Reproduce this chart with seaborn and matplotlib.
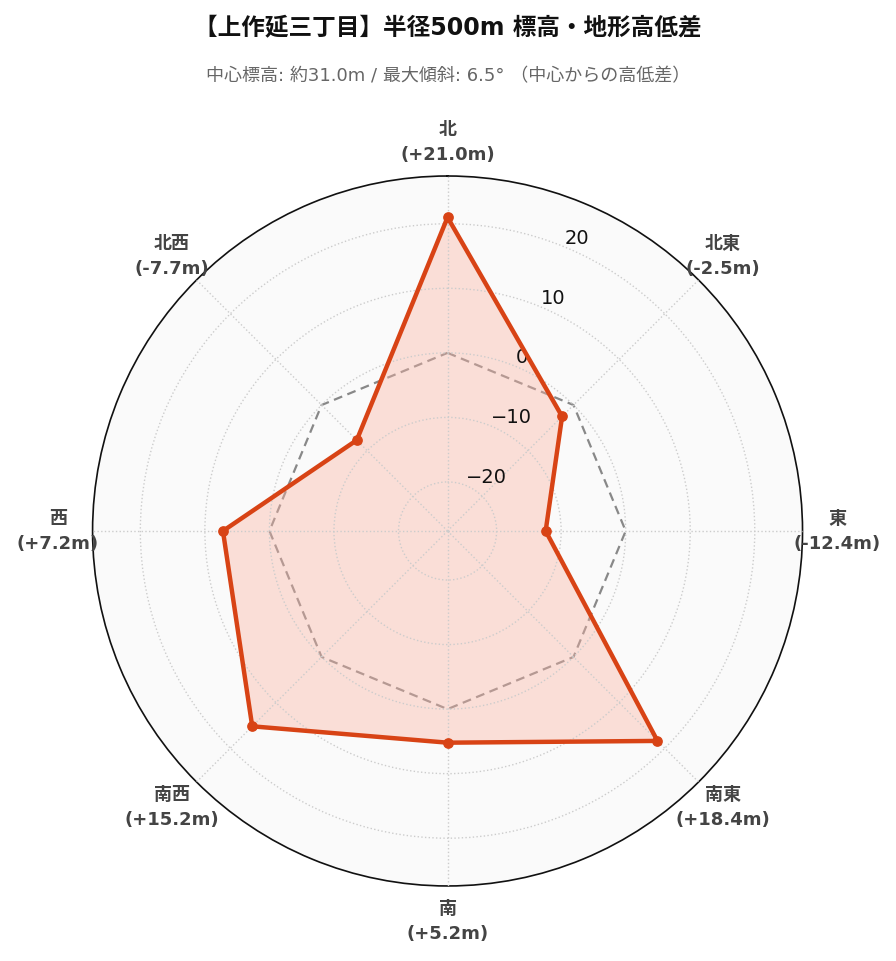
import numpy as np
import matplotlib
matplotlib.use("Agg")
import matplotlib.pyplot as plt
import seaborn as sns

directions = ["北", "北東", "東", "南東", "南", "南西", "西", "北西"]
values = [21.0, -2.5, -12.4, 18.4, 5.2, 15.2, 7.2, -7.7]
r_ticks = [-20, -10, 0, 10, 20]
title = "【上作延三丁目】半径500m 標高・地形高低差"
subtitle = "中心標高: 約31.0m / 最大傾斜: 6.5° （中心からの高低差）"

sns.set_theme(style="white")
plt.rcParams['font.family'] = ['DejaVu Sans', 'Noto Sans CJK JP']

fig = plt.figure(figsize=(8.96, 9.62), dpi=100)
ax = fig.add_axes([0.103, 0.078, 0.793, 0.738], projection="polar")
ax.set_theta_zero_location("N")
ax.set_theta_direction(-1)
ax.set_facecolor("#fafafa")

n = len(directions)
theta = np.linspace(0, 2*np.pi, n, endpoint=False)
tc = np.append(theta, theta[0])
vc = np.append(values, values[0])

ax.plot(tc, np.zeros_like(tc), color="#888888", lw=1.6, ls=(0, (4, 2.5)))
ax.fill(tc, vc, color="#fbb4a4", alpha=0.4, zorder=2)
ax.plot(tc, vc, color="#d84315", lw=3.2, zorder=3)
ax.scatter(theta, values, color="#d84315", s=45, zorder=4)

ax.set_ylim(-27.6, 27.4)
ax.set_yticks(r_ticks)
ax.set_yticklabels([str(t).replace("-", "−") for t in r_ticks], fontsize=14, color="#111111", zorder=6)
ax.set_rlabel_position(22.5)
labels = [f"{d}\n({'+' if v >= 0 else ''}{v:.1f}m)" for d, v in zip(directions, values)]
ax.set_xticks(theta)
ax.set_xticklabels(labels, fontsize=13, fontweight="bold", color="#444444", linespacing=1.5)
ax.tick_params(axis="x", pad=12)
ax.grid(True, color="#cccccc", ls=":", lw=1)
ax.set_axisbelow(False)
ax.spines["polar"].set_color("#111111")
ax.spines["polar"].set_linewidth(1.2)

fig.text(0.5, 0.972, title, ha="center", va="center", fontsize=17, fontweight="bold", color="#111111")
fig.text(0.5, 0.921, subtitle, ha="center", va="center", fontsize=13, color="#666666")
fig.savefig("out.png", dpi=100)
